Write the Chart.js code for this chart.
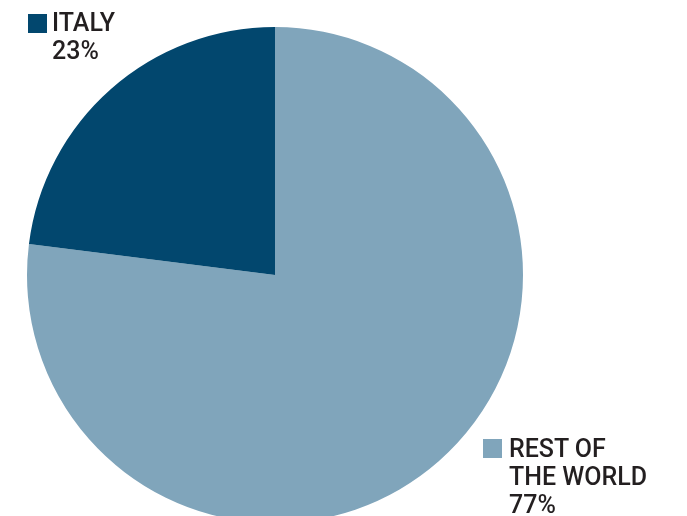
<!DOCTYPE html>
<html>
<head>
<meta charset="utf-8">
<script src="https://cdn.jsdelivr.net/npm/chart.js@4"></script>
<style>
  html, body { margin: 0; padding: 0; background: #fff; }
  #wrap { position: relative; width: 687px; height: 516px; overflow: hidden; }
  #box { position: absolute; left: 0; top: 0; width: 687px; height: 560px; }
  .lbl { position: absolute; font-family: Roboto, sans-serif; font-weight: 500; font-size: 25px; line-height: 28px; color: #231f20; }
  .sq { position: absolute; width: 19px; height: 19px; }
</style>
</head>
<body>
<div id="wrap">
  <div id="box"><canvas id="pie"></canvas></div>
  <div class="sq" id="sq0" style="left:483px; top:439px;"></div>
  <div class="lbl" id="lb0" style="left:509px; top:435px;"></div>
  <div class="sq" id="sq1" style="left:28px; top:14px;"></div>
  <div class="lbl" id="lb1" style="left:52px; top:9px;"></div>
</div>
<script>
const regions = ['REST OF<br>THE WORLD', 'ITALY'];
const shares = [77, 23];
const colors = ['#80a5bb', '#02476e'];

regions.forEach((r, i) => {
  document.getElementById('lb' + i).innerHTML = r + '<br>' + shares[i] + '%';
  document.getElementById('sq' + i).style.background = colors[i];
});

new Chart(document.getElementById('pie'), {
  type: 'pie',
  data: {
    labels: regions.map(r => r.replace('<br>', ' ')),
    datasets: [{
      data: shares,
      backgroundColor: colors,
      borderWidth: 0
    }]
  },
  options: {
    responsive: true,
    maintainAspectRatio: false,
    animation: false,
    layout: { padding: { left: 27, right: 164, top: 27, bottom: 37 } },
    plugins: { legend: { display: false }, tooltip: { enabled: false } }
  }
});
</script>
</body>
</html>
